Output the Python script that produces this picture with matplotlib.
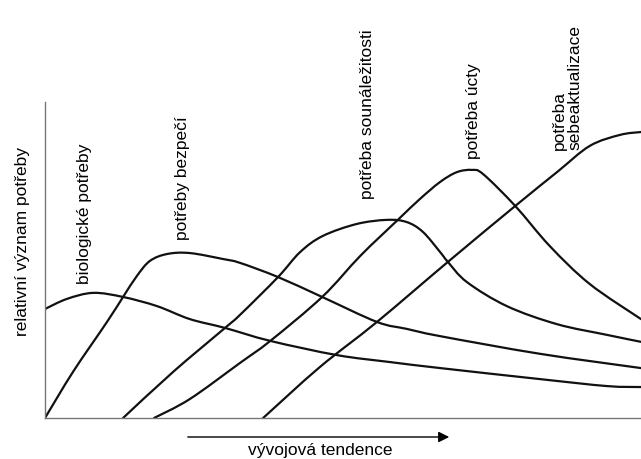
import matplotlib
matplotlib.use("Agg")
import numpy as np
import matplotlib.pyplot as plt
from matplotlib.path import Path
from matplotlib.patches import PathPatch

plt.rcParams['font.family'] = ['Liberation Sans', 'DejaVu Sans']

# values (x: development 0-100, y: relative importance 0-100)
bio_x = [0, 3.7, 8.1, 13.1, 18.8, 24.3, 30.2, 37.8, 49.0, 57.9, 66.3, 83.1, 94.3, 100]
bio_y = [34.5, 37.7, 39.6, 38.3, 35.4, 31.3, 28.5, 24.4, 19.9, 17.7, 15.8, 12.3, 10.1, 9.8]

safe_x = [0, 4.7, 10.4, 13.1, 15.4, 17.6, 20.5, 24.3, 29.9, 32.7, 39.1, 46.5, 55.7, 60.7, 66.3, 83.1, 100]
safe_y = [0, 14.6, 30.4, 38.3, 44.9, 49.7, 51.9, 52.2, 50.3, 49.1, 44.6, 38.3, 30.4, 28.2, 25.9, 20.3, 15.8]

bel_x = [13.1, 21.5, 30.2, 32.7, 39.1, 42.8, 46.6, 52.3, 57.4, 60.7, 63.4, 66.3, 67.6, 70.8, 77.5, 85.9, 94.3, 100]
bel_y = [0, 14.6, 28.5, 32.6, 44.6, 52.5, 57.6, 61.4, 62.7, 62.0, 58.9, 52.5, 49.4, 43.0, 35.4, 29.7, 26.3, 24.1]

est_x = [18.3, 24.3, 32.7, 37.8, 46.5, 52.9, 59.2, 62.9, 66.3, 69.1, 71.6, 73.5, 78.9, 84.7, 91.4, 100]
est_y = [0, 6.0, 17.4, 24.4, 38.3, 51.3, 62.7, 69.3, 74.7, 77.8, 78.5, 77.2, 67.1, 54.4, 42.4, 31.3]

self_x = [36.6, 46.1, 55.7, 67.6, 78.9, 85.9, 91.4, 96.5, 100]
self_y = [0, 16.1, 30.4, 49.4, 67.1, 77.8, 86.1, 89.6, 90.5]

labels = ["biologické potřeby", "potřeby bezpečí", "potřeba sounáležitosti",
          "potřeba úcty", "potřeba\nsebeaktualizace"]
label_pos = [(84, 214), (183, 178), (367, 114), (473, 111), (567, 88)]  # pixel centres


def smooth_path(xs, ys):
    # Catmull-Rom through the read points, drawn as cubic Bezier segments
    p = np.column_stack([xs, ys]).astype(float)
    verts = [p[0]]
    codes = [Path.MOVETO]
    n = len(p)
    for i in range(n - 1):
        p0 = p[i - 1] if i > 0 else p[i]
        p3 = p[i + 2] if i + 2 < n else p[i + 1]
        c1 = p[i] + (p[i + 1] - p0) / 6
        c2 = p[i + 1] - (p3 - p[i]) / 6
        verts += [c1, c2, p[i + 1]]
        codes += [Path.CURVE4] * 3
    return Path(verts, codes)


W, H = 641, 460
fig = plt.figure(figsize=(W / 100, H / 100), dpi=100)
ax = fig.add_axes([45 / W, (H - 419) / H, (W - 45) / W, 316 / H])
ax.set_xlim(0, 100)
ax.set_ylim(0, 100)

for xs, ys in [(bio_x, bio_y), (safe_x, safe_y), (bel_x, bel_y), (est_x, est_y), (self_x, self_y)]:
    ax.add_patch(PathPatch(smooth_path(xs, ys), fill=False, lw=1.6, color="#111111",
                           capstyle='round', joinstyle='round'))

ax.set_xticks([])
ax.set_yticks([])
for s in ['top', 'right']:
    ax.spines[s].set_visible(False)
for s in ['left', 'bottom']:
    ax.spines[s].set_color('#777777')
    ax.spines[s].set_linewidth(1.0)

fs = 12.5
fig.text(23 / W, 1 - 241 / H, "relativní význam potřeby", rotation=90,
         ha='center', va='center', fontsize=fs)
for txt, (px, py) in zip(labels, label_pos):
    fig.text(px / W, 1 - py / H, txt, rotation=90, ha='center', va='center',
             fontsize=fs, multialignment='left', linespacing=1.0)

# development arrow
fig.add_artist(matplotlib.patches.FancyArrowPatch(
    (185 / W, 1 - 438 / H), (452 / W, 1 - 438 / H), transform=fig.transFigure,
    arrowstyle='-|>', mutation_scale=16, lw=1.0, color='black'))
fig.text(320 / W, 1 - 451 / H, "vývojová tendence", ha='center', va='center', fontsize=fs)

fig.savefig("out.png", dpi=100)
